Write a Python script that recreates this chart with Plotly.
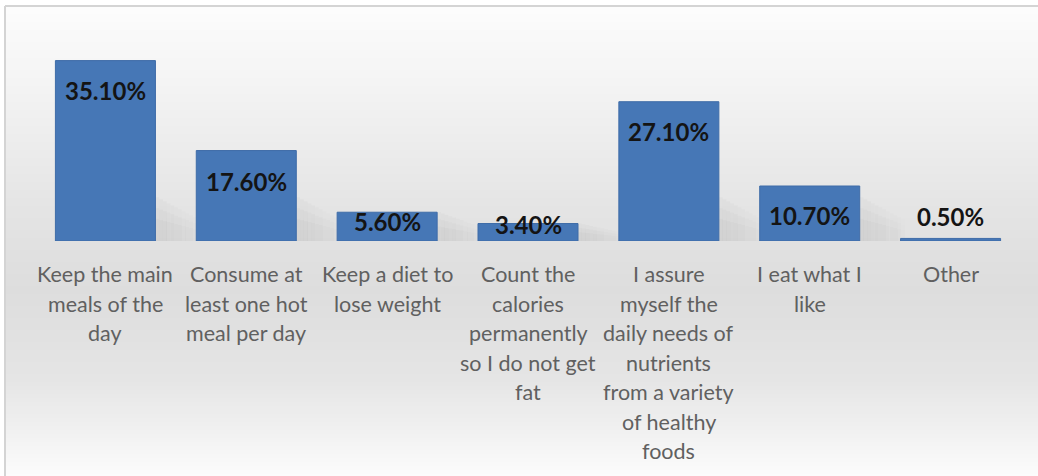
import plotly.graph_objects as go

# ---------------- data ----------------
categories = [
    "Keep the main meals of the day",
    "Consume at least one hot meal per day",
    "Keep a diet to lose weight",
    "Count the calories permanently so I do not get fat",
    "I assure myself the daily needs of nutrients from a variety of healthy foods",
    "I eat what I like",
    "Other",
]
tick_label_lines = [
    ["Keep the main", "meals of the", "day"],
    ["Consume at", "least one hot", "meal per day"],
    ["Keep a diet to", "lose weight"],
    ["Count the", "calories", "permanently", "so I do not get", "fat"],
    ["I assure", "myself the", "daily needs of", "nutrients", "from a variety", "of healthy", "foods"],
    ["I eat what I", "like"],
    ["Other"],
]
values = [35.1, 17.6, 5.6, 3.4, 27.1, 10.7, 0.5]
value_labels = ["35.10%", "17.60%", "5.60%", "3.40%", "27.10%", "10.70%", "0.50%"]

# ---------------- style ----------------
W, H = 1038, 476
M_L, M_R, M_T, M_B = 35, 17, 31, 235
PLOT_H = H - M_T - M_B
PX_PER_UNIT = 5.14
Y_MAX = PLOT_H / PX_PER_UNIT
label_shift_px = [-30, -31, -9, -1, -30, -29, 22]
BAR_COLOR = "#4677b6"
TEXT_FONT = "Lato, 'Open Sans', sans-serif"

fig = go.Figure()
fig.add_trace(go.Bar(
    x=categories, y=values,
    marker=dict(color=BAR_COLOR, line=dict(color="#3f6ca8", width=1)),
    width=0.71,
    hoverinfo="x+y",
))

annotations = []
for cat, v, lab, sh in zip(categories, values, value_labels, label_shift_px):
    annotations.append(dict(
        x=cat, y=v, xref="x", yref="y", text="<b>" + lab + "</b>",
        showarrow=False, yanchor="middle", yshift=sh,
        font=dict(family=TEXT_FONT, size=24, color="#141414"),
    ))
for cat, lines in zip(categories, tick_label_lines):
    for i, line in enumerate(lines):
        annotations.append(dict(
            x=cat, y=0, xref="x", yref="y", text=line,
            showarrow=False, yanchor="middle", yshift=-33 - 29.5 * i,
            font=dict(family=TEXT_FONT, size=21.5, color="#606060"),
        ))

# background vertical gradient (white -> light gray -> white) as thin bands
stops = [(0, 253), (100, 242), (200, 229), (290, 221), (380, 229), (440, 243), (476, 252)]


def shade(py):
    for (y0, c0), (y1, c1) in zip(stops[:-1], stops[1:]):
        if y0 <= py <= y1:
            t = (py - y0) / (y1 - y0)
            return round(c0 + (c1 - c0) * t)
    return stops[-1][1]


def to_paper(py):
    return (H - M_B - py) / PLOT_H


def to_paper_x(px):
    return (px - M_L) / (W - M_L - M_R)


shapes = []
step = 4
for py in range(6, H, step):
    c = shade(py + step / 2)
    shapes.append(dict(
        type="rect", xref="paper", yref="paper", layer="below",
        x0=to_paper_x(6), x1=to_paper_x(W + 2),
        y0=to_paper(py), y1=to_paper(min(py + step, H + 2)),
        fillcolor=f"rgb({c},{c},{c})", line=dict(width=0),
    ))
# soft shadows to the right of each bar's base (fading sideways and upward)
N_SLICES = 12
for i, v in enumerate(values):
    if v < 2:
        continue
    hmax = min(v, 8.5)
    for j in range(N_SLICES):
        t = j / N_SLICES
        x0 = i + 0.355 + t * 0.32
        x1 = i + 0.355 + (j + 1) / N_SLICES * 0.32
        h_slice = hmax * (1 - 0.55 * t)
        for frac in (1.0, 0.75, 0.5):
            shapes.append(dict(
                type="rect", xref="x", yref="y", layer="below",
                x0=x0, x1=x1, y0=0, y1=h_slice * frac,
                fillcolor=f"rgba(90,90,90,{0.035 * (1 - t) + 0.005:.3f})",
                line=dict(width=0),
            ))
# frame lines (top and left)
shapes.append(dict(type="line", xref="paper", yref="paper",
                   x0=to_paper_x(5), x1=to_paper_x(W + 2), y0=to_paper(6), y1=to_paper(6),
                   line=dict(color="#d4d4d4", width=2)))
shapes.append(dict(type="line", xref="paper", yref="paper",
                   x0=to_paper_x(5), x1=to_paper_x(5), y0=to_paper(6), y1=to_paper(H + 2),
                   line=dict(color="#d4d4d4", width=2)))

fig.update_layout(
    width=W, height=H,
    margin=dict(l=M_L, r=M_R, t=M_T, b=M_B, pad=0),
    paper_bgcolor="white", plot_bgcolor="rgba(0,0,0,0)",
    showlegend=False,
    bargap=0.29,
    xaxis=dict(showticklabels=False, showgrid=False, zeroline=False, showline=False, ticks="",
               range=[-0.5, len(categories) - 0.5]),
    yaxis=dict(range=[0, Y_MAX], visible=False, showgrid=False, zeroline=False),
    annotations=annotations,
    shapes=shapes,
)

fig.write_html(
    "out.html",
    config={"displayModeBar": False},
    post_script="document.body.style.margin='0';document.body.style.overflow='hidden';",
)
